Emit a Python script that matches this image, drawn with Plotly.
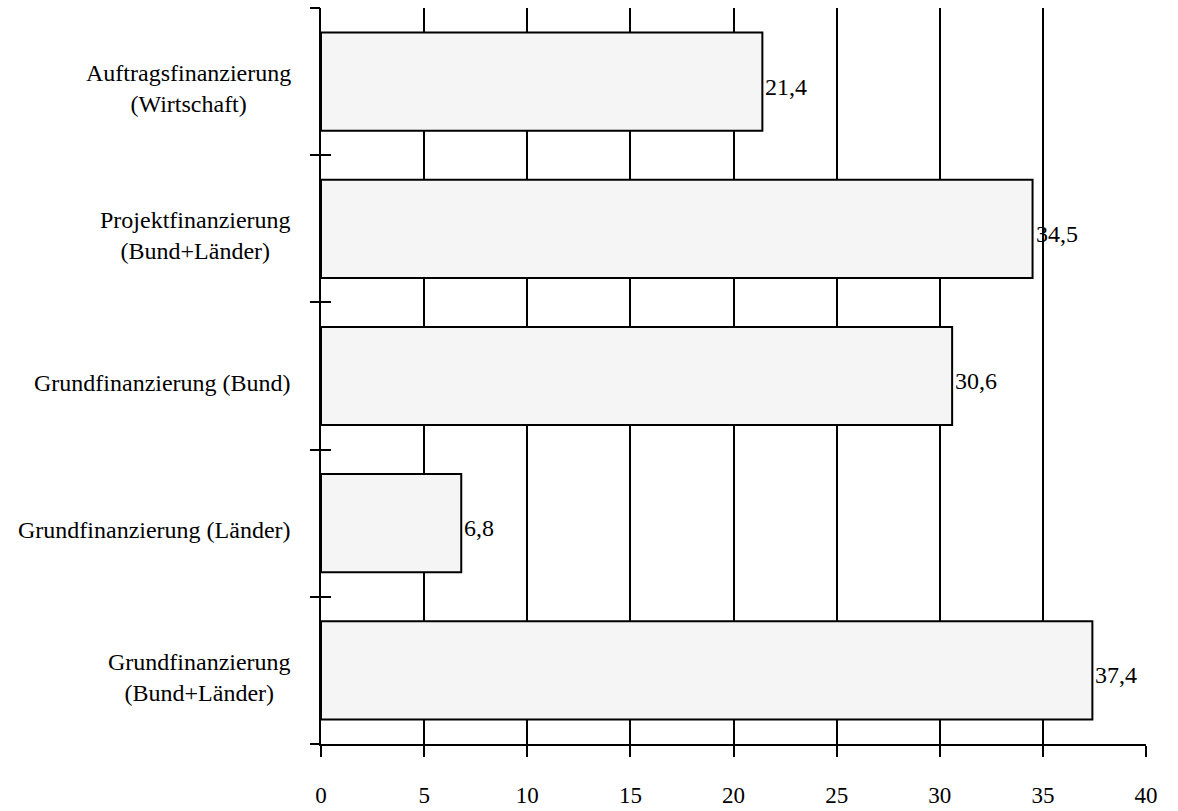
import plotly.graph_objects as go

# Funding sources (top to bottom) and their shares in percent
categories = [
    "Auftragsfinanzierung<br>(Wirtschaft)",
    "Projektfinanzierung<br>(Bund+Länder)",
    "Grundfinanzierung (Bund)",
    "Grundfinanzierung (Länder)",
    "Grundfinanzierung<br>(Bund+Länder)",
]
values = [21.4, 34.5, 30.6, 6.8, 37.4]
value_labels = ["21,4", "34,5", "30,6", "6,8", "37,4"]
x_ticks = [0, 5, 10, 15, 20, 25, 30, 35, 40]
grid_ticks = [5, 10, 15, 20, 25, 30, 35]

FONT = "Liberation Serif"
FS = 24
TICK_FS = 23
n = len(categories)
y_range = [n - 0.5, -0.5]
boundaries = [i - 0.5 for i in range(n + 1)]

fig = go.Figure()
fig.add_trace(go.Bar(
    x=values, y=categories, orientation="h",
    width=0.667,
    marker=dict(color="#f5f5f5", line=dict(color="black", width=2)),
    showlegend=False, hoverinfo="skip",
))

axis_common = dict(showgrid=False, zeroline=False, fixedrange=True, automargin=False)

fig.update_layout(
    width=1178, height=811,
    margin=dict(l=321, r=32, t=8, b=67, autoexpand=False),
    paper_bgcolor="white", plot_bgcolor="white",
    font=dict(family=FONT, size=FS, color="black"),
    bargap=0.333,
    xaxis=dict(
        range=[0, 40], tickvals=x_ticks, ticktext=[str(v) for v in x_ticks],
        ticks="outside", ticklen=11, tickwidth=2, tickcolor="black",
        showline=True, linewidth=2, linecolor="black",
        ticklabelstandoff=18,
        tickfont=dict(family=FONT, size=TICK_FS, color="black"),
        layer="above traces", **axis_common,
    ),
    xaxis2=dict(
        range=[0, 40], overlaying="x", anchor="y",
        tickvals=grid_ticks, showgrid=True, gridcolor="black", gridwidth=2,
        ticks="", showticklabels=False, showline=False, zeroline=False,
        layer="below traces", fixedrange=True, automargin=False,
    ),
    xaxis3=dict(
        range=[0, 40], overlaying="x", anchor="y",
        tickvals=[40], ticks="inside", ticklen=11, tickwidth=2, tickcolor="black",
        showticklabels=False, showline=False, **axis_common,
    ),
    yaxis=dict(
        type="category", categoryarray=categories, categoryorder="array",
        range=y_range, showticklabels=False, ticks="",
        showline=True, linewidth=2, linecolor="black",
        layer="above traces", **axis_common,
    ),
    yaxis2=dict(
        range=y_range, overlaying="y", anchor="x",
        tickvals=boundaries, ticks="outside", ticklen=10, tickwidth=2,
        tickcolor="black", showticklabels=False, showline=False, **axis_common,
    ),
    yaxis3=dict(
        range=y_range, overlaying="y", anchor="x",
        tickvals=boundaries, ticks="inside", ticklen=10, tickwidth=2,
        tickcolor="black", showticklabels=False, showline=False, **axis_common,
    ),
)

# Empty traces so the overlay axes are bound to subplots
fig.add_trace(go.Scatter(x=[None], y=[None], xaxis="x2", yaxis="y", showlegend=False, hoverinfo="skip"))
fig.add_trace(go.Scatter(x=[None], y=[None], xaxis="x3", yaxis="y", showlegend=False, hoverinfo="skip"))
fig.add_trace(go.Scatter(x=[None], y=[None], xaxis="x", yaxis="y2", showlegend=False, hoverinfo="skip"))
fig.add_trace(go.Scatter(x=[None], y=[None], xaxis="x", yaxis="y3", showlegend=False, hoverinfo="skip"))

# Value labels just past the end of each bar
for i, (v, lab) in enumerate(zip(values, value_labels)):
    fig.add_annotation(
        x=v, xref="x", xanchor="left", xshift=1,
        y=i, yref="y", yanchor="middle", yshift=-5,
        text=lab, showarrow=False,
        font=dict(family=FONT, size=FS, color="black"),
    )

# Category labels, centred line by line, to the left of the axis
for i, label in enumerate(categories):
    fig.add_annotation(
        x=0, xref="paper", xanchor="right", xshift=-28,
        y=i, yref="y", yanchor="middle", yshift=-7,
        text=label, align="center", showarrow=False,
        font=dict(family=FONT, size=FS, color="black"),
    )

fig.write_html("out.html")
